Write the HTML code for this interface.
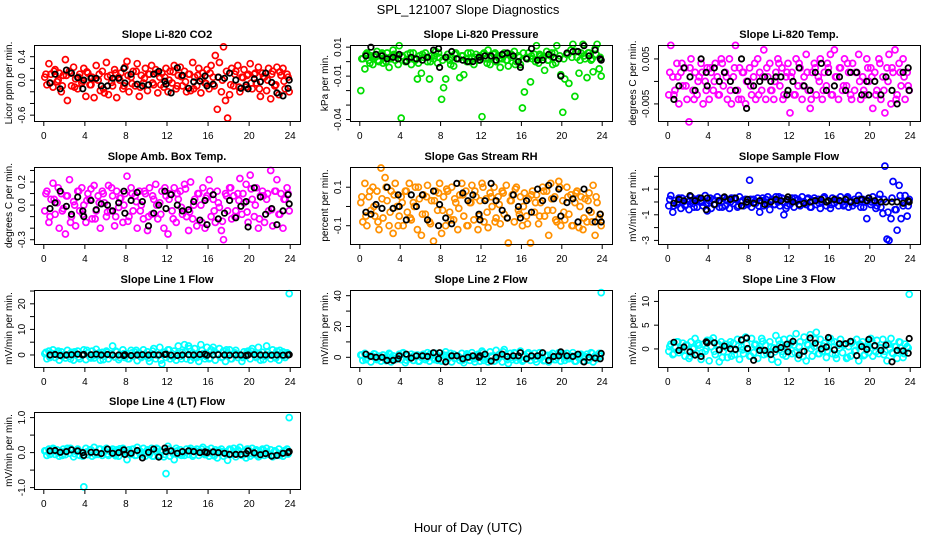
<!DOCTYPE html>
<html><head><meta charset="utf-8"><style>
html,body{margin:0;padding:0;background:#fff;}
svg{display:block;font-family:"Liberation Sans",Arial,sans-serif;}
</style></head><body>
<svg id="chart" width="936" height="540" viewBox="0 0 936 540">
<text x="468" y="14" text-anchor="middle" font-size="13">SPL_121007  Slope Diagnostics</text>
<text x="468" y="532" text-anchor="middle" font-size="13">Hour of Day (UTC)</text>
</svg>
<script>
// ---- data ----
const hoursColored = [0.1,0.3,0.5,0.7,0.9,1.1,1.3,1.5,1.7,1.9,2.1,2.3,2.5,2.7,2.9,3.1,3.3,3.5,3.7,3.9,4.1,4.3,4.5,4.7,4.9,5.1,5.3,5.5,5.7,5.9,6.1,6.3,6.5,6.7,6.9,7.1,7.3,7.5,7.7,7.9,8.1,8.3,8.5,8.7,8.9,9.1,9.3,9.5,9.7,9.9,10.1,10.3,10.5,10.7,10.9,11.1,11.3,11.5,11.7,11.9,12.1,12.3,12.5,12.7,12.9,13.1,13.3,13.5,13.7,13.9,14.1,14.3,14.5,14.7,14.9,15.1,15.3,15.5,15.7,15.9,16.1,16.3,16.5,16.7,16.9,17.1,17.3,17.5,17.7,17.9,18.1,18.3,18.5,18.7,18.9,19.1,19.3,19.5,19.7,19.9,20.1,20.3,20.5,20.7,20.9,21.1,21.3,21.5,21.7,21.9,22.1,22.3,22.5,22.7,22.9,23.1,23.3,23.5,23.7,23.9];
const hoursExtra = [0.2,0.6,1.0,1.4,1.8,2.2,2.6,3.0,3.4,3.8,4.2,4.6,5.0,5.4,5.8,6.2,6.6,7.0,7.4,7.8,8.2,8.6,9.0,9.4,9.8,10.2,10.6,11.0,11.4,11.8,12.2,12.6,13.0,13.4,13.8,14.2,14.6,15.0,15.4,15.8,16.2,16.6,17.0,17.4,17.8,18.2,18.6,19.0,19.4,19.8,20.2,20.6,21.0,21.4,21.8,22.2,22.6,23.0,23.4,23.8];
const hoursBlack = [0.6,1.1,1.6,2.2,2.7,3.3,3.8,3.9,4.6,5.1,5.6,6.2,6.7,7.3,7.8,7.9,8.5,9.1,9.6,10.2,10.7,11.2,11.8,11.9,12.4,13.0,13.5,14.1,14.6,15.2,15.7,15.9,16.5,17.0,17.6,18.1,18.7,19.2,19.7,19.9,20.5,21.1,21.6,22.2,22.7,23.3,23.8,23.9];
const xTicks = [0,4,8,12,16,20,24];

const co2Values = [0.05,-0.08,0.28,0.1,-0.12,0.18,-0.03,0.12,-0.2,0.08, 0.35,-0.35,0.15,-0.1,0.22,0.02,-0.15,0.1,-0.05,0.2, -0.28,0.12,-0.08,0.05,-0.3,0.25,0.0,-0.18,0.15,-0.22, 0.3,-0.25,0.08,-0.1,0.18,-0.3,0.05,0.12,-0.15,0.22, 0.32,-0.2,0.05,0.15,-0.1,0.28,-0.28,0.08,-0.05,0.2, -0.18,0.1,0.25,-0.08,0.18,-0.22,0.05,0.12,-0.12,0.2, -0.2,0.15,-0.05,0.25,-0.15,0.08,0.22,-0.1,0.15,-0.2, 0.1,-0.18,0.3,0.05,-0.1,0.2,-0.22,0.12,-0.05,0.18, -0.15,0.25,0.05,0.42,-0.5,0.3,-0.2,0.57,-0.35,-0.65, -0.25,0.2,-0.1,0.15,0.25,-0.2,0.05,0.18,-0.12,0.1, 0.28,-0.15,0.1,-0.05,0.22,-0.28,0.12,0.05,-0.18,0.2, -0.32,0.15,-0.1,0.22,-0.25,0.08,0.2,-0.15,0.1,-0.2];
const co2Extra = [0.1,-0.05,0.15,0.0,-0.1,0.08,0.12,-0.12,0.05,-0.02,0.14,-0.08,0.02,0.1,-0.15,0.06,-0.04,0.12,0.0,-0.1,0.08,-0.06,0.15,-0.12,0.03,0.1,-0.05,0.12,-0.08,0.05,0.0,0.14,-0.1,0.06,-0.03,0.1,-0.15,0.08,0.02,-0.06,0.12,-0.1,0.05,0.0,0.15,-0.08,0.1,-0.12,0.04,0.08,-0.05,0.12,-0.15,0.06,0.0,0.1,-0.08,0.14,-0.02,0.05];
const co2Black = [-0.05,0.1,-0.15,0.17,0.12,0.04,-0.15,0.0,0.03,0.03,-0.1,-0.1,0.03,0.03,0.2,-0.05,0.1,-0.07,-0.1,-0.08,0.1,0.15,-0.02,-0.07,-0.22,0.21,0.08,-0.14,-0.03,-0.02,0.07,-0.1,-0.07,0.05,0.03,0.12,0.0,-0.14,-0.08,-0.15,0.02,-0.03,0.12,-0.04,-0.22,-0.27,-0.14,0.0];

const pressureValues = [-0.02,0.002,-0.005,0.006,0.001,0.004,-0.002,0.003,0.007,0.0, 0.005,-0.001,0.003,0.006,-0.004,0.002,0.008,0.001,0.004,0.011, -0.039,0.003,0.0,0.005,0.002,-0.002,0.006,0.001,-0.012,0.004, -0.008,0.003,0.006,0.0,-0.012,0.004,0.002,0.007,-0.001,0.003, -0.026,-0.018,-0.012,0.005,0.001,0.003,-0.003,0.006,0.002,-0.011, 0.004,-0.009,0.002,0.006,0.0,0.003,-0.002,0.005,0.001,0.004, -0.038,0.006,0.002,0.008,-0.002,0.003,0.005,0.0,0.004,-0.004, 0.002,0.006,0.001,-0.003,0.005,0.003,0.007,0.0,0.004,-0.002, -0.032,-0.021,0.003,0.006,-0.014,0.002,0.005,0.011,-0.001,0.004, 0.003,-0.006,0.007,0.001,0.004,-0.002,0.006,0.011,0.002,-0.009, -0.035,-0.012,0.005,-0.015,0.008,0.012,-0.024,0.003,-0.008,0.006, 0.012,0.002,-0.011,0.006,0.001,-0.007,0.009,0.012,-0.005,-0.01];
const pressureExtra = [0.002,0.005,-0.001,0.004,0.001,0.006,0.0,0.003,0.005,-0.002,0.004,0.001,0.006,0.002,-0.001,0.005,0.003,0.0,0.004,0.006,0.001,0.003,-0.002,0.005,0.002,0.004,0.0,0.006,0.003,0.001,0.005,-0.001,0.003,0.006,0.002,0.004,0.001,0.005,-0.002,0.003,0.006,0.002,0.004,0.0,0.005,0.003,0.001,0.006,-0.001,0.004,0.002,0.005,0.003,0.007,0.001,0.004,0.006,0.002,0.005,0.003];
const pressureBlack = [0.004,0.01,0.005,0.004,0.002,0.003,0.002,0.005,0.0,0.003,0.002,0.001,0.003,0.008,0.009,-0.004,0.003,0.007,0.002,0.001,0.0,0.0,0.003,0.001,0.004,0.004,0.001,0.005,0.006,0.004,0.0,-0.004,0.002,0.009,0.001,0.001,0.005,0.003,0.002,-0.01,0.006,0.007,0.007,0.011,0.004,0.008,0.002,0.001];

const tempValues = [-0.003,0.008,0.001,-0.002,0.004,-0.005,0.002,-0.001,0.003,-0.004, -0.009,0.005,-0.002,0.002,-0.003,0.001,0.004,-0.005,0.0,0.003, -0.004,0.002,-0.002,0.004,0.001,-0.003,0.005,-0.001,0.002,-0.004, 0.005,-0.005,0.001,0.008,-0.002,0.003,-0.004,0.002,-0.005,0.0, 0.003,-0.003,0.001,-0.004,0.005,0.002,-0.002,0.007,-0.004,0.001, 0.004,-0.002,-0.004,0.002,0.005,-0.001,0.003,-0.003,0.001,0.004, -0.007,0.002,-0.003,0.005,-0.001,0.003,-0.004,0.001,0.006,-0.002, -0.006,0.002,0.004,-0.003,0.001,0.005,-0.004,0.002,-0.001,0.003, 0.006,-0.003,0.007,0.001,-0.004,0.003,-0.002,0.005,-0.001,0.002, -0.003,0.004,-0.002,0.002,0.006,-0.004,0.001,-0.003,0.005,0.0, 0.003,-0.006,0.002,-0.002,0.005,-0.004,0.001,-0.007,0.003,0.006, -0.005,0.002,0.007,-0.003,0.004,-0.001,0.005,-0.004,0.002,-0.002];
const tempExtra = [0.002,-0.003,0.001,0.004,-0.001,0.003,-0.004,0.0,0.002,-0.002,0.003,0.0,-0.003,0.004,0.001,-0.002,0.003,-0.004,0.002,0.0,-0.001,0.004,-0.003,0.001,0.003,-0.002,0.0,0.004,-0.004,0.002,0.001,-0.003,0.004,-0.001,0.002,-0.004,0.003,0.0,-0.002,0.004,-0.003,0.001,0.003,-0.001,0.004,-0.004,0.002,0.0,-0.002,0.003,0.001,-0.003,0.004,-0.002,0.0,0.003,-0.004,0.002,0.001,-0.001];
const tempBlack = [-0.004,-0.001,0.003,0.001,-0.002,0.005,0.002,-0.001,0.003,0.0,0.002,0.0,-0.002,0.005,-0.006,0.0,-0.001,0.0,0.001,0.0,0.001,0.001,-0.003,-0.002,0.0,0.003,-0.001,-0.002,0.002,0.004,-0.002,0.002,-0.001,0.001,-0.002,0.002,0.002,-0.003,0.0,-0.003,0.0,-0.003,0.001,-0.002,-0.005,0.002,0.003,-0.002];

const ambValues = [-0.05,0.12,-0.15,0.05,0.19,-0.08,0.02,-0.2,0.1,-0.03, -0.25,0.08,0.22,-0.1,0.03,-0.18,0.12,-0.05,0.15,0.0, -0.15,0.1,0.05,-0.12,0.17,-0.05,0.08,-0.2,0.12,0.02, -0.1,0.17,-0.05,0.08,-0.18,0.12,-0.02,0.06,-0.15,0.1, 0.25,-0.1,0.15,-0.05,0.08,-0.2,0.12,0.0,-0.12,0.1, -0.22,0.15,-0.08,0.05,0.18,-0.12,0.02,0.12,-0.2,0.08, -0.25,0.1,-0.05,0.15,-0.15,0.05,0.12,-0.08,0.18,-0.1, -0.22,0.2,-0.12,0.05,-0.18,0.1,0.0,0.15,-0.2,0.08, 0.22,-0.1,0.05,-0.15,0.12,-0.02,-0.22,-0.3,0.1,-0.05, 0.15,-0.12,0.08,-0.05,0.1,0.23,-0.08,0.02,0.18,-0.15, 0.26,0.05,-0.1,0.15,-0.2,0.08,0.12,-0.15,0.05,-0.05, 0.3,-0.18,0.12,0.22,-0.08,0.1,-0.2,0.05,0.15,-0.05];
const ambExtra = [0.1,-0.1,0.05,0.15,-0.05,0.08,-0.15,0.0,0.12,-0.08,0.04,0.14,-0.12,0.02,0.1,-0.06,0.15,-0.1,0.06,0.0,-0.14,0.1,0.03,-0.05,0.12,-0.1,0.08,0.0,-0.08,0.15,0.05,-0.12,0.1,-0.02,0.14,-0.06,0.0,0.1,-0.15,0.06,0.12,-0.05,0.02,-0.14,0.08,0.15,-0.1,0.04,0.1,-0.06,0.14,0.0,-0.12,0.08,0.1,-0.04,0.12,-0.08,0.05,0.1];
const ambBlack = [-0.03,0.02,0.12,-0.01,-0.08,0.07,-0.05,-0.1,0.04,-0.04,0.01,0.0,-0.05,0.02,0.12,-0.07,0.04,0.11,0.03,-0.18,-0.07,0.0,0.12,-0.03,0.09,0.0,-0.05,-0.04,0.03,-0.13,0.04,-0.17,0.09,-0.12,-0.07,0.04,-0.11,-0.01,0.03,-0.19,0.15,0.07,-0.08,-0.03,-0.17,-0.05,0.09,0.01];

const rhValues = [0.02,-0.08,0.12,-0.1,0.05,-0.02,0.1,-0.05,0.08,-0.12, 0.2,-0.06,0.15,0.03,-0.1,0.08,-0.14,0.12,0.0,-0.05, 0.05,-0.1,0.08,-0.03,0.12,-0.07,0.02,0.1,-0.12,0.04, -0.15,0.06,-0.04,0.11,-0.08,0.03,-0.18,0.08,-0.02,0.12, -0.14,0.05,-0.1,0.08,-0.03,0.1,-0.07,0.02,-0.12,0.06, 0.12,-0.05,0.08,-0.1,0.02,0.11,-0.07,0.05,-0.12,0.03, 0.12,-0.08,0.04,-0.11,0.07,0.0,0.1,-0.06,0.05,-0.09, 0.08,-0.04,0.11,-0.19,0.03,0.06,-0.08,0.1,-0.02,0.05, -0.1,0.07,-0.05,0.04,-0.19,0.08,-0.03,0.06,-0.09,0.02, 0.1,-0.05,0.08,-0.15,0.12,-0.02,0.05,-0.08,0.13,-0.1, 0.03,-0.07,0.1,-0.04,0.06,-0.1,0.02,0.08,-0.11,0.05, -0.12,0.04,-0.08,0.07,-0.03,0.11,-0.15,0.02,-0.06,-0.1];
const rhExtra = [0.05,-0.05,0.08,0.0,-0.08,0.04,0.1,-0.03,0.06,-0.1,0.02,0.08,-0.06,0.0,0.1,-0.04,0.05,-0.09,0.03,0.07,-0.02,0.09,-0.07,0.04,-0.01,0.06,-0.1,0.02,0.08,-0.05,0.1,-0.03,0.05,-0.08,0.01,0.07,-0.06,0.03,0.09,-0.04,0.0,-0.09,0.06,0.02,-0.05,0.08,-0.02,0.04,-0.07,0.1,-0.03,0.05,-0.1,0.07,0.0,-0.06,0.03,-0.08,0.05,-0.04];
const rhBlack = [-0.03,-0.04,0.01,-0.01,0.1,-0.01,0.06,0.0,-0.07,0.06,0.0,0.06,-0.07,0.08,-0.1,0.01,-0.06,-0.09,0.12,0.07,0.03,0.06,-0.04,-0.07,0.03,0.12,0.03,-0.02,-0.06,0.06,0.0,-0.06,0.03,-0.03,0.09,0.03,0.11,0.04,0.09,-0.05,0.02,0.04,-0.08,0.09,-0.02,-0.08,-0.04,-0.08];

const sampleValues = [-0.3,0.5,-0.8,0.1,-0.2,0.3,-0.5,0.0,-0.3,0.2, -0.6,0.4,-0.1,0.2,-0.4,0.3,0.0,-0.3,0.5,-0.7, 0.1,-0.5,0.2,-0.2,0.4,-0.4,0.0,0.3,-0.3,0.1, -0.5,0.3,-0.1,0.2,-0.4,0.4,0.0,-0.3,0.2,-0.2, 1.7,-0.4,0.2,-0.1,0.3,-0.8,0.1,-0.3,0.2,0.4, -0.6,0.2,-0.2,0.4,0.0,-0.3,0.3,-1.0,-0.5,0.1, -0.2,0.3,-0.4,0.1,0.2,-0.3,0.4,0.0,-0.2,0.3, -0.4,0.1,0.3,-0.2,0.2,-0.5,0.0,0.4,-0.3,0.1, -0.5,0.3,-0.1,0.2,-0.3,0.4,0.0,-0.2,0.3,-0.4, 0.1,-0.3,0.2,-0.1,0.5,-0.4,0.2,0.0,-1.3,0.3, -0.2,0.4,0.0,-0.3,0.2,-0.4,-0.9,2.8,-2.9,-3.0, -1.3,1.6,-0.6,-2.2,1.3,-1.3,-0.3,0.5,-1.1,0.2];
const sampleExtra = [0.2,-0.3,0.0,0.3,-0.2,0.1,-0.4,0.2,0.0,-0.1,0.3,-0.2,0.1,-0.4,0.2,0.0,0.3,-0.3,0.1,-0.1,0.2,0.0,-0.3,0.3,-0.1,0.1,-0.2,0.4,0.0,-0.3,0.1,0.3,-0.2,0.0,0.2,-0.4,0.1,-0.1,0.3,0.0,-0.2,0.2,0.1,-0.3,0.4,0.0,-0.1,0.2,-0.4,0.1,0.0,-0.5,0.6,0.2,-0.8,0.3,-0.6,0.5,0.0,-0.3];
const sampleBlack = [-0.1,0.2,0.1,0.5,0.1,0.3,-0.6,0.3,-0.2,0.1,0.4,0.2,0.3,-0.3,0.0,0.2,-0.1,0.1,-0.2,0.0,0.2,0.1,0.2,0.4,0.0,-0.2,-0.1,0.0,0.1,0.2,0.0,0.1,0.2,0.1,0.2,0.0,0.1,0.2,0.1,0.3,0.1,0.0,0.0,0.0,0.0,-0.1,0.1,0.0];

const line1Values = [0.5,-1.5,1.5,-0.5,2.0,-1.0,0.8,-2.0,1.2,0.0, -1.2,1.8,-0.5,1.0,-2.0,0.5,1.5,-1.5,0.2,2.0, -1.8,0.8,-0.8,1.5,-1.2,2.2,0.0,-2.0,1.0,-0.5, 1.5,-1.5,0.5,3.5,-0.8,1.2,-1.8,0.2,2.0,-1.0, 0.5,-1.5,1.8,-0.5,1.0,-2.2,0.8,-1.0,2.0,-0.3, 1.2,-2.5,0.5,2.5,-1.5,0.0,3.0,-3.5,1.0,-1.0, 2.0,-1.5,0.5,1.5,-2.0,3.5,-0.5,1.0,4.0,-1.5, 3.5,-2.0,0.8,2.5,-1.0,-2.5,4.0,0.5,-1.5,3.0, -1.5,2.0,3.0,-2.0,0.5,2.5,-1.0,1.5,-2.5,0.8, 2.0,-1.5,0.5,1.8,-1.0,0.0,-2.5,1.2,-0.5,1.5, -1.5,2.5,0.5,-1.0,3.0,-2.0,1.0,-0.5,3.5,0.0, -1.5,2.0,-0.8,1.5,-2.0,0.5,1.2,-1.0,0.8,24.0];
const line1Extra = [1.0,-1.0,0.5,1.5,-0.5,0.0,-1.5,1.2,-0.8,0.3,1.8,-1.2,0.0,0.8,-1.8,1.0,-0.3,1.5,-1.0,0.5,-1.5,0.8,1.8,-0.5,0.2,-1.2,1.5,0.0,-2.0,1.0,2.0,-0.8,0.5,-1.5,1.2,2.5,-1.0,0.0,1.8,-0.5,-1.2,1.5,0.3,-0.8,2.0,-1.5,0.8,0.0,-1.0,1.2,1.5,-0.5,0.5,-1.8,1.0,0.0,-1.2,1.8,-0.3,0.5];
const line1Black = [0.0,0.2,-0.2,0.0,0.1,0.3,0.0,0.2,0.1,0.3,0.0,0.2,0.0,0.0,-0.2,0.1,-0.2,0.0,0.1,0.0,0.1,0.0,0.2,0.3,-0.1,-0.2,0.0,0.1,0.0,0.2,0.3,-0.1,0.0,0.1,0.0,-0.1,0.0,0.0,-0.2,0.0,0.1,0.0,0.0,-0.1,0.0,-0.1,0.0,0.1];

const line2Values = [1.5,-2.0,2.5,-0.5,1.0,-3.0,0.5,2.0,-1.5,0.8, -2.5,1.5,-1.0,0.5,2.5,-3.0,1.0,-1.5,0.0,2.0, -1.5,3.0,-3.5,0.8,-1.0,2.0,-2.0,0.5,1.5,-2.5, 0.0,2.0,-1.5,3.0,-2.5,1.0,-0.5,2.5,-2.0,0.5, -2.5,1.5,3.5,-1.0,0.5,-3.0,2.0,-0.5,1.0,-2.0, 2.5,-3.5,0.5,1.5,-2.0,3.0,-1.0,0.0,2.0,-2.5, 4.0,-2.0,1.0,-3.0,3.5,0.5,-2.5,4.5,-1.0,2.0, -3.0,5.0,1.0,-4.0,2.5,-1.5,3.0,-2.0,0.5,4.0, -2.5,1.5,-1.0,3.0,-2.0,0.5,2.5,-3.0,1.0,-0.5, 2.5,-2.0,0.5,-3.0,1.5,2.5,-1.5,0.0,3.0,-2.5, 1.0,-2.0,2.5,-1.0,0.5,3.0,-2.5,1.5,-0.5,2.0, -2.5,0.5,2.0,-1.5,3.0,-3.0,1.0,-1.0,2.5,42.0];
const line2Extra = [1.5,-1.5,0.8,2.2,-0.8,0.0,-2.2,1.8,-1.2,0.5,2.5,-1.8,0.0,1.2,-2.5,1.5,-0.5,2.2,-1.5,0.8,-2.2,1.2,2.5,-0.8,0.3,-1.8,2.2,0.0,-3.0,1.5,3.0,-1.2,0.8,-2.2,1.8,3.5,-1.5,0.0,2.5,-0.8,-1.8,2.2,0.5,-1.2,3.0,-2.2,1.2,0.0,-1.5,1.8,2.2,-0.8,0.8,-2.5,1.5,0.0,-1.8,2.5,-0.5,0.8];
const line2Black = [2.0,0.5,0.0,0.0,-2.0,-2.0,-1.0,1.0,2.0,-0.5,1.0,1.0,0.5,3.0,-1.0,3.0,-3.0,1.0,1.0,-1.0,0.0,1.0,0.0,1.0,2.0,-2.5,0.0,2.0,0.5,1.0,1.0,3.0,-1.0,1.0,1.0,3.0,-2.0,0.5,1.0,3.5,1.0,0.5,2.0,-3.0,0.0,-0.5,-1.0,2.5];

const line3Values = [-0.5,1.0,-1.2,0.5,1.5,-0.8,0.2,1.2,-1.5,0.8, -2.0,1.5,0.0,2.2,-1.0,0.8,-2.2,1.0,-0.5,1.8, -2.5,0.5,2.3,-1.2,0.8,-2.7,1.5,-0.5,1.0,-1.8, 0.8,-1.5,1.2,-0.2,2.0,-2.2,0.5,-1.0,2.5,0.0, -1.5,2.2,-0.8,1.0,-2.0,0.5,2.2,-1.2,0.8,-0.5, 1.5,-2.2,0.2,2.8,-2.8,1.0,-0.5,2.0,-1.5,0.5, 2.2,-1.0,0.8,3.2,-2.0,1.5,-0.5,2.5,-2.5,0.8, 3.0,-1.5,0.5,3.5,-1.0,2.0,-0.5,1.2,-1.8,0.5, 2.2,-1.0,1.5,-2.0,0.8,2.0,-0.8,1.0,-2.0,0.5, -1.5,1.5,-0.5,2.0,-2.5,0.8,1.5,-1.2,0.2,-0.8, 2.2,-1.5,0.5,1.8,-1.0,0.2,2.0,-0.5,-2.5,1.0, 2.2,-1.0,0.5,-2.0,1.5,-0.5,-1.8,1.0,0.5,11.5];
const line3Extra = [0.5,-1.0,1.5,-0.3,0.8,-1.5,0.2,1.2,-0.8,0.0,1.8,-0.5,1.0,-1.8,0.3,1.5,-1.2,0.6,-0.2,1.0,-1.5,0.8,0.0,1.6,-1.0,0.4,-0.6,1.8,-1.2,0.2,1.2,-0.8,0.5,-1.6,1.0,0.0,2.0,-1.0,0.6,-0.4,1.5,-1.2,0.2,0.8,-1.8,1.2,-0.3,1.0,-1.4,0.5,1.6,-0.6,0.3,-1.2,1.0,-0.8,0.5,1.4,-1.0,0.2];
const line3Black = [1.4,-0.3,0.4,-0.6,-1.3,-1.6,1.5,1.3,1.3,-0.2,0.6,0.0,-0.1,1.9,2.3,0.1,-2.4,-0.3,-0.3,-1.2,-0.1,0.3,1.0,-0.6,1.6,-1.3,-0.5,2.3,1.2,0.0,0.4,2.4,-0.2,1.1,1.1,1.6,-1.4,0.5,-0.1,2.0,0.7,-0.3,0.8,-2.7,-0.3,-0.4,-0.9,2.2];

const line4Values = [0.05,-0.08,0.1,-0.03,0.12,-0.05,0.08,-0.1,0.02,0.1, -0.06,0.12,-0.02,0.08,-0.12,0.05,0.1,-0.08,0.0,-0.98, 0.12,-0.06,0.08,-0.1,0.15,0.0,-0.05,0.1,-0.08,0.06, 0.12,-0.08,0.02,0.1,-0.05,0.08,-0.1,0.05,0.12,-0.03, -0.2,0.08,-0.05,0.1,-0.08,0.15,0.0,-0.06,0.12,-0.1, 0.08,-0.05,0.12,-0.1,0.05,0.1,-0.08,0.02,-0.12,-0.6, 0.18,-0.1,0.05,-0.2,0.12,-0.05,0.08,0.0,-0.08,0.1, -0.05,0.12,-0.1,0.06,0.1,-0.08,0.02,0.15,-0.06,0.08, -0.1,0.12,-0.05,0.08,-0.15,0.05,0.1,-0.1,0.02,-0.22, 0.1,-0.05,0.12,-0.12,0.08,0.15,-0.08,0.02,-0.15,0.1, -0.1,0.12,-0.05,0.08,-0.12,0.0,0.1,-0.08,0.12,-0.05, 0.08,-0.12,0.05,-0.08,0.1,-0.02,-0.1,0.06,0.1,1.0];
const line4Extra = [0.05,-0.05,0.1,0.0,-0.08,0.06,0.12,-0.03,0.04,-0.1,0.02,0.08,-0.06,0.1,0.0,-0.04,0.05,-0.09,0.11,0.03,-0.02,0.09,-0.07,0.04,-0.01,0.06,-0.1,0.12,0.02,-0.05,0.1,-0.03,0.05,-0.08,0.01,0.07,-0.06,0.03,0.09,-0.04,0.0,-0.09,0.06,0.02,-0.05,0.08,-0.02,0.04,-0.07,0.1,-0.03,0.05,-0.1,0.07,0.0,-0.06,0.03,-0.08,0.05,-0.04];
const line4Black = [0.05,0.06,0.01,0.03,0.08,0.05,0.0,-0.08,0.01,0.01,-0.03,0.1,-0.02,0.0,0.08,-0.05,-0.02,0.06,-0.15,0.01,0.1,-0.13,0.13,0.03,0.05,-0.02,0.03,0.05,0.03,0.0,0.02,0.0,0.02,0.0,-0.02,-0.05,-0.05,-0.05,-0.03,0.05,-0.01,-0.06,-0.03,-0.1,-0.08,-0.02,0.0,0.03];

// y-axis ticks and labels per panel
const co2Ticks = [-0.6,-0.4,-0.2,0,0.2,0.4];          const co2Labels = ["-0.6","","","0.0","","0.4"];
const pressureTicks = [-0.04,-0.03,-0.02,-0.01,0,0.01]; const pressureLabels = ["-0.04","","","-0.01","","0.01"];
const tempTicks = [-0.005,0,0.005];                    const tempLabels = ["-0.005","","0.005"];
const ambTicks = [-0.3,-0.2,-0.1,0,0.1,0.2,0.3];        const ambLabels = ["-0.3","","","0.0","","0.2",""];
const rhTicks = [-0.1,0,0.1];                          const rhLabels = ["-0.1","","0.1"];
const sampleTicks = [-3,-2,-1,0,1,2];                  const sampleLabels = ["-3","","-1","","1",""];
const line1Ticks = [0,5,10,15,20,25];                  const line1Labels = ["0","","10","","20",""];
const line2Ticks = [0,10,20,30,40];                    const line2Labels = ["0","","20","","40"];
const line3Ticks = [0,5,10];                           const line3Labels = ["0","5","10"];
const line4Ticks = [-1,-0.5,0,0.5,1];                  const line4Labels = ["-1.0","","0.0","","1.0"];

// ---- layout ----
const NS = "http://www.w3.org/2000/svg";
const svg = document.getElementById("chart");
const colL = [34, 350, 658], colR = [300, 612, 920];
const rowT = [45, 167, 290, 412], rowB = [121, 244, 367, 489];

const panels = [
  {name:"co2", c:0,r:0,title:"Slope Li-820 CO2",ylab:"Licor ppm per min.",ymin:-0.70,ymax:0.60,vals:co2Values,ext:co2Extra,blk:co2Black,ticks:co2Ticks,labels:co2Labels,col:"#ff0000"},
  {name:"pressure", c:1,r:0,title:"Slope Li-820 Pressure",ylab:"kPa per min.",ymin:-0.0410,ymax:0.0115,vals:pressureValues,ext:pressureExtra,blk:pressureBlack,ticks:pressureTicks,labels:pressureLabels,col:"#00dd00"},
  {name:"temp", c:2,r:0,title:"Slope Li-820 Temp.",ylab:"degrees C per min.",ymin:-0.0088,ymax:0.0081,vals:tempValues,ext:tempExtra,blk:tempBlack,ticks:tempTicks,labels:tempLabels,col:"#ff00ff"},
  {name:"amb-box-temp", c:0,r:1,title:"Slope Amb. Box Temp.",ylab:"degrees C per min.",ymin:-0.337,ymax:0.33,vals:ambValues,ext:ambExtra,blk:ambBlack,ticks:ambTicks,labels:ambLabels,col:"#ff00ff"},
  {name:"gas-stream-rh", c:1,r:1,title:"Slope Gas Stream RH",ylab:"percent per min.",ymin:-0.195,ymax:0.205,vals:rhValues,ext:rhExtra,blk:rhBlack,ticks:rhTicks,labels:rhLabels,col:"#ff9000"},
  {name:"sample-flow", c:2,r:1,title:"Slope Sample Flow",ylab:"mV/min per min.",ymin:-3.28,ymax:2.73,vals:sampleValues,ext:sampleExtra,blk:sampleBlack,ticks:sampleTicks,labels:sampleLabels,col:"#0000ff"},
  {name:"line1-flow", c:0,r:2,title:"Slope Line 1 Flow",ylab:"mV/min per min.",ymin:-4.7,ymax:25.4,vals:line1Values,ext:line1Extra,blk:line1Black,ticks:line1Ticks,labels:line1Labels,col:"#00ffff"},
  {name:"line2-flow", c:1,r:2,title:"Slope Line 2 Flow",ylab:"mV/min per min.",ymin:-6.3,ymax:43.7,vals:line2Values,ext:line2Extra,blk:line2Black,ticks:line2Ticks,labels:line2Labels,col:"#00ffff"},
  {name:"line3-flow", c:2,r:2,title:"Slope Line 3 Flow",ylab:"mV/min per min.",ymin:-3.8,ymax:12.4,vals:line3Values,ext:line3Extra,blk:line3Black,ticks:line3Ticks,labels:line3Labels,col:"#00ffff"},
  {name:"line4-flow", c:0,r:3,title:"Slope Line 4 (LT) Flow",ylab:"mV/min per min.",ymin:-1.04,ymax:1.16,vals:line4Values,ext:line4Extra,blk:line4Black,ticks:line4Ticks,labels:line4Labels,col:"#00ffff"}
];

function el(tag, attrs, parent){
  const e = document.createElementNS(NS, tag);
  for (const k in attrs) e.setAttribute(k, attrs[k]);
  parent.appendChild(e);
  return e;
}

panels.forEach(p => {
  const L = colL[p.c], R = colR[p.c], T = rowT[p.r], B = rowB[p.r];
  const xScale = h => L + 9.8 + (h / 24) * (R - L - 19.6);
  const yScale = v => B - (v - p.ymin) / (p.ymax - p.ymin) * (B - T);

  const g = el("g", {}, svg);
  
  

  const t = el("text", {x:(L+R)/2, y:T-7, "text-anchor":"middle", "font-size":"11", "font-weight":"bold"}, g);
  t.textContent = p.title;
  
  

  // colored points
  const pts = el("g", {fill:"none", stroke:p.col, "stroke-width":"1.7"}, g);
  
  
  const n = Math.min(hoursColored.length, p.vals.length);
  for (let i = 0; i < n; i++) {
    const c = el("circle", {cx:xScale(hoursColored[i]).toFixed(1), cy:yScale(p.vals[i]).toFixed(1), r:"3"}, pts);
    
    
  }
  const n2 = Math.min(hoursExtra.length, p.ext.length);
  for (let i = 0; i < n2; i++) {
    const c = el("circle", {cx:xScale(hoursExtra[i]).toFixed(1), cy:yScale(p.ext[i]).toFixed(1), r:"3"}, pts);
    
    
  }
  const bpts = el("g", {fill:"none", stroke:"#000", "stroke-width":"1.8"}, g);
  
  
  const m = Math.min(hoursBlack.length, p.blk.length);
  for (let i = 0; i < m; i++) {
    const c = el("circle", {cx:xScale(hoursBlack[i]).toFixed(1), cy:yScale(p.blk[i]).toFixed(1), r:"2.7"}, bpts);
    
    
  }

  // box
  const box = el("rect", {x:L+0.5, y:T+0.5, width:R-L, height:B-T, fill:"none", stroke:"#000", "stroke-width":"1"}, g);
  
  

  // x axis
  const xa = el("g", {stroke:"#000", "stroke-width":"1"}, g);
  
  
  el("line", {x1:xScale(xTicks[0]), x2:xScale(xTicks[xTicks.length-1]), y1:B+0.5, y2:B+0.5}, xa);
  xTicks.forEach(h => {
    const x = xScale(h);
    el("line", {x1:x, x2:x, y1:B, y2:B+5}, xa);
    const lt = el("text", {x:x, y:B+18, "text-anchor":"middle", "font-size":"10", stroke:"none", fill:"#000"}, xa);
    lt.textContent = h;
    
    
  });

  // y axis
  const ya = el("g", {stroke:"#000", "stroke-width":"1"}, g);
  
  
  el("line", {x1:L+0.5, x2:L+0.5, y1:yScale(p.ticks[0]), y2:yScale(p.ticks[p.ticks.length-1])}, ya);
  p.ticks.forEach((v, i) => {
    const y = yScale(v);
    el("line", {x1:L-4, x2:L, y1:y, y2:y}, ya);
    if (p.labels[i]) {
      const lx = L - 9;
      const lt = el("text", {x:lx, y:y, transform:`rotate(-90 ${lx} ${y})`, "text-anchor":"middle", "font-size":"10", stroke:"none", fill:"#000"}, ya);
      lt.textContent = p.labels[i];
      
      
    }
  });
  const yx = L - 22, yy = (T + B) / 2;
  const yt = el("text", {x:yx, y:yy, transform:`rotate(-90 ${yx} ${yy})`, "text-anchor":"middle", "font-size":"10"}, g);
  yt.textContent = p.ylab;
  
  
});
</script>
</body></html>
